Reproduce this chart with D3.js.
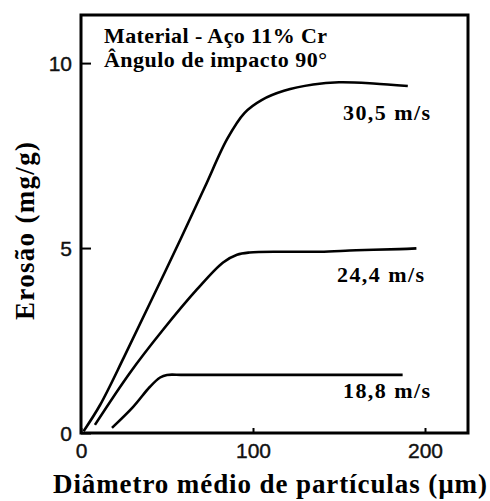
<!DOCTYPE html>
<html>
<head>
<meta charset="utf-8">
<script src="https://cdn.jsdelivr.net/npm/d3@7"></script>
<style>
  body { margin: 0; background: #fff; }
  svg { display: block; }
</style>
</head>
<body>
<div id="chart"></div>
<script>
// values: [diameter (µm), erosion (mg/g)]
const speed305 = [[1.5, 0.05], [11, 0.75], [25, 2.05], [40, 3.5], [58, 5.25], [72, 6.65], [85, 7.95], [95, 8.65], [105, 9.0], [118, 9.25], [135, 9.42], [150, 9.48], [170, 9.45], [190, 9.38]];
const speed244 = [[8.1, 0.22], [28.5, 1.63], [47.7, 2.79], [67.4, 3.88], [82.6, 4.61], [90.7, 4.82], [98, 4.88], [117, 4.9], [139, 4.9], [160, 4.94], [185, 4.97], [195, 4.99]];
const speed188 = [[18, 0.14], [30.2, 0.7], [40.1, 1.25], [46, 1.5], [50, 1.57], [60, 1.57], [120, 1.57], [187, 1.57]];
const seriesLabels = ["30,5 m/s", "24,4 m/s", "18,8 m/s"];
const xTicks = [0, 100, 200];
const yTicks = [0, 5, 10];
const titleLines = ["Material - Aço 11% Cr", "Ângulo de impacto 90°"];

const width = 490, height = 501;
const plotLeft = 81, plotRight = 468, plotTop = 15, plotBottom = 433;

const svg = d3.select('#chart').append('svg')
    .attr('width', width)
    .attr('height', height);

const x = d3.scaleLinear().domain([0, 225]).range([plotLeft, plotRight]);
const y = d3.scaleLinear().domain([0, 11.3]).range([plotBottom, plotTop]);

// frame
svg.append('rect')
    .attr('x', plotLeft)
    .attr('y', plotTop)
    .attr('width', plotRight - plotLeft)
    .attr('height', plotBottom - plotTop)
    .attr('fill', 'none')
    .attr('stroke', '#000')
    .attr('stroke-width', 3);

// axes (ticks point inward)
const yAxis = svg.append('g')
    .attr('transform', `translate(${plotLeft},0)`)
    .call(d3.axisLeft(y).tickValues(yTicks).tickSizeInner(-10).tickSizeOuter(0).tickPadding(9));
const xAxis = svg.append('g')
    .attr('transform', `translate(0,${plotBottom})`)
    .call(d3.axisBottom(x).tickValues(xTicks).tickSizeInner(-5).tickSizeOuter(0).tickPadding(10));

[xAxis, yAxis].forEach(g => {
    g.select('.domain').remove();
    g.selectAll('.tick line').attr('stroke', '#000').attr('stroke-width', 2);
    g.selectAll('.tick text')
        .attr('fill', '#111')
        .attr('stroke', '#111')
        .attr('stroke-width', 0.4)
        .style('font-family', '"Liberation Sans", Arial, sans-serif')
        .style('font-size', '21px');
});
xAxis.selectAll('.tick text').attr('dy', '0.71em');
yAxis.selectAll('.tick text').attr('dy', '0.36em');

// curves
const line = d3.line()
    .x(d => x(d[0]))
    .y(d => y(d[1]))
    .curve(d3.curveCatmullRom.alpha(0.5));

const series = [speed305, speed244, speed188];
svg.selectAll('.curve')
    .data(series)
    .enter()
    .append('path')
    .attr('class', 'curve')
    .attr('d', line)
    .attr('fill', 'none')
    .attr('stroke', '#000')
    .attr('stroke-width', 2.6);

const serif = '"Liberation Serif", "Times New Roman", serif';

// series labels
const labelPos = [[343, 120], [337, 282], [343, 398]];
svg.selectAll('.s-label')
    .data(seriesLabels)
    .enter()
    .append('text')
    .attr('class', 's-label')
    .attr('x', (d, i) => labelPos[i][0])
    .attr('y', (d, i) => labelPos[i][1])
    .attr('textLength', 87)
    .style('font-family', serif)
    .style('font-weight', 'bold')
    .style('font-size', '22px')
    .text(d => d);

// title block
svg.selectAll('.t-line')
    .data(titleLines)
    .enter()
    .append('text')
    .attr('class', 't-line')
    .attr('x', 104)
    .attr('y', (d, i) => 43 + i * 24)
    .attr('textLength', 223)
    .style('font-family', serif)
    .style('font-weight', 'bold')
    .style('font-size', '22px')
    .text(d => d);

// axis titles
svg.append('text')
    .attr('x', 270)
    .attr('y', 493)
    .attr('text-anchor', 'middle')
    .attr('textLength', 434)
    .style('font-family', serif)
    .style('font-weight', 'bold')
    .style('font-size', '27px')
    .text('Diâmetro médio de partículas (µm)');

svg.append('text')
    .attr('transform', 'translate(34,231) rotate(-90)')
    .attr('text-anchor', 'middle')
    .attr('textLength', 178)
    .style('font-family', serif)
    .style('font-weight', 'bold')
    .style('font-size', '27px')
    .text('Erosão (mg/g)');
</script>
</body>
</html>
